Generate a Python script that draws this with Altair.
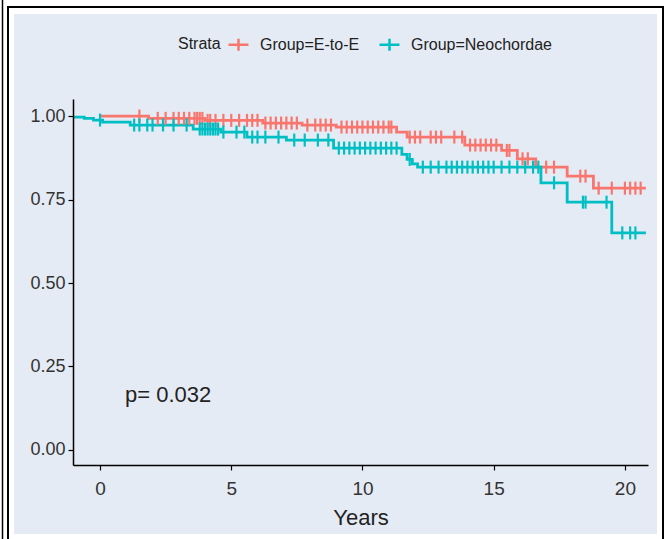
import altair as alt
import pandas as pd
import numpy as np

# Kaplan-Meier step points (time, survival)
red_t = [0, 1.85, 4.0, 6.2, 7.7, 9.0, 11.3, 11.7, 13.9, 15.3, 15.9, 16.6, 17.8, 18.8, 20.8]
red_s = [1.0, 0.993, 0.987, 0.979, 0.973, 0.967, 0.952, 0.937, 0.913, 0.897, 0.872, 0.847, 0.82, 0.784, 0.784]

teal_t = [-1.03, -0.6, -0.25, 0.1, 1.15, 3.55, 4.6, 5.6, 7.1, 8.9, 11.5, 11.7, 11.9, 12.1, 16.8, 17.8, 19.5, 20.8]
teal_s = [0.997, 0.993, 0.988, 0.982, 0.973, 0.961, 0.952, 0.937, 0.928, 0.904, 0.885, 0.87, 0.857, 0.847, 0.80, 0.742, 0.65, 0.65]

# censoring times
red_c = [1.5, 2.2, 2.5, 2.8, 3.0, 3.2, 3.4, 3.6, 3.7, 3.8, 3.9, 4.1, 4.2, 4.4, 4.7, 5.0, 5.3,
         5.6, 5.8, 6.0, 6.3, 6.5, 6.7, 6.9, 7.1, 7.3, 7.5, 7.9, 8.2, 8.4, 8.6, 8.8, 9.2, 9.4,
         9.6, 9.8, 10.0, 10.2, 10.4, 10.6, 10.8, 11.0, 11.1, 11.8, 12.0, 12.2, 12.6, 12.8, 13.0,
         13.5, 13.8, 14.1, 14.3, 14.5, 14.7, 14.9, 15.1, 15.5, 15.6, 16.1, 16.3, 17.0, 17.3,
         18.3, 18.5, 19.0, 19.5, 20.0, 20.2, 20.4, 20.6]
teal_c = [0.0, 1.3, 1.5, 1.8, 2.0, 2.4, 2.8, 3.3, 3.8, 3.9, 4.0, 4.1, 4.2, 4.3, 4.4, 4.5, 4.7,
          5.2, 5.5, 5.8, 6.0, 6.3, 6.8, 7.4, 7.8, 8.3, 8.7, 9.1, 9.3, 9.5, 9.7, 9.9, 10.1,
          10.3, 10.5, 10.7, 10.9, 11.1, 11.3, 11.8, 12.3, 12.6, 12.9, 13.2, 13.4, 13.6, 13.8,
          14.0, 14.2, 14.4, 14.6, 14.8, 15.0, 15.3, 15.6, 15.9, 16.2, 16.5, 16.7, 17.3, 18.4,
          18.5, 19.3, 19.9, 20.2, 20.4]

groups = ["Group=E-to-E", "Group=Neochordae"]
colors = ["#F8766D", "#00BFC4"]

def step_val(ts, ss, t):
    idx = np.searchsorted(ts, t, side="right") - 1
    return ss[max(idx, 0)]

lines = pd.concat([
    pd.DataFrame({"t": red_t, "s": red_s, "g": groups[0]}),
    pd.DataFrame({"t": teal_t, "s": teal_s, "g": groups[1]}),
])
cens = pd.concat([
    pd.DataFrame({"t": red_c, "s": [step_val(red_t, red_s, c) for c in red_c], "g": groups[0]}),
    pd.DataFrame({"t": teal_c, "s": [step_val(teal_t, teal_s, c) for c in teal_c], "g": groups[1]}),
])

bg = "#E5EBF4"
W, H = 575, 366
PL, PT = 73, 99

legend = alt.Legend(
    orient="none", legendX=105, legendY=-66, direction="horizontal",
    title="Strata", titleOrient="left", titleFontSize=16, titleFontWeight="normal",
    titleColor="#222222", titleFont="Liberation Sans", titlePadding=6,
    labelFont="Liberation Sans", labelFontSize=16, labelColor="#222222",
    symbolType="M-1,0H1M0,-0.6V0.6", symbolSize=400, symbolStrokeWidth=2.5,
    symbolOpacity=1, labelOffset=10, columnPadding=14, zindex=2,
)

xs = alt.Scale(domain=[-1.03, 20.88], nice=False, zero=False)
ys = alt.Scale(domain=[-0.045, 1.051], nice=False, zero=False)
cs = alt.Scale(domain=groups, range=colors)

xax = alt.Axis(values=[0, 5, 10, 15, 20], format="d", title="Years", grid=False, zindex=1,
               domainColor="black", domainWidth=1.5, tickColor="black", tickWidth=1.2,
               tickSize=5, labelFontSize=19, labelColor="#333333", labelFont="Liberation Sans",
               labelPadding=9, titleFontSize=22, titleFontWeight="normal", titleColor="#222222",
               titleFont="Liberation Sans", titlePadding=9)
yax = alt.Axis(values=[0, 0.25, 0.5, 0.75, 1.0], format=".2f", title=None, grid=False, zindex=1,
               domainColor="black", domainWidth=1.5, tickColor="black", tickWidth=1.2,
               tickSize=5, labelFontSize=18, labelColor="#333333", labelFont="Liberation Sans",
               labelPadding=3)

one = pd.DataFrame({"a": [0]})
frame = alt.Chart(one).mark_rect(fill="white", stroke="black", strokeWidth=2).encode(
    x=alt.value(8 - PL), x2=alt.value(663 - PL), y=alt.value(7 - PT), y2=alt.value(545 - PT))
panel = alt.Chart(one).mark_rect(fill=bg, strokeWidth=0).encode(
    x=alt.value(14 - PL), x2=alt.value(657 - PL), y=alt.value(14 - PT), y2=alt.value(534 - PT))
outer = alt.Chart(one).mark_rule(color="black", strokeWidth=1.5).encode(
    x=alt.value(2.5 - PL), y=alt.value(0 - PT), y2=alt.value(539 - PT))

line = alt.Chart(lines).mark_line(interpolate="step-after", strokeWidth=2.8, opacity=1).encode(
    x=alt.X("t:Q", scale=xs, axis=xax),
    y=alt.Y("s:Q", scale=ys, axis=yax),
    color=alt.Color("g:N", scale=cs, legend=legend),
    detail="g:N",
)
ticks = alt.Chart(cens).mark_tick(orient="vertical", size=13, thickness=2.2, opacity=1).encode(
    x=alt.X("t:Q", scale=xs),
    y=alt.Y("s:Q", scale=ys),
    color=alt.Color("g:N", scale=cs, legend=legend),
)

ptxt = pd.DataFrame({"t": [0.95], "s": [0.165], "label": ["p= 0.032"]})
ptext = alt.Chart(ptxt).mark_text(align="left", baseline="middle", fontSize=22,
                                  font="Liberation Sans", color="#222222").encode(
    x=alt.X("t:Q", scale=xs), y=alt.Y("s:Q", scale=ys), text="label:N")

chart = alt.layer(frame, panel, outer, line, ticks, ptext).properties(
    width=W, height=H,
    autosize=alt.AutoSizeParams(type="none"),
    padding={"left": PL, "top": PT, "right": 667 - PL - W, "bottom": 539 - PT - H},
    background="white",
).configure_view(stroke=None)

chart.save("out.html", embed_options={"renderer": "svg", "actions": False})
